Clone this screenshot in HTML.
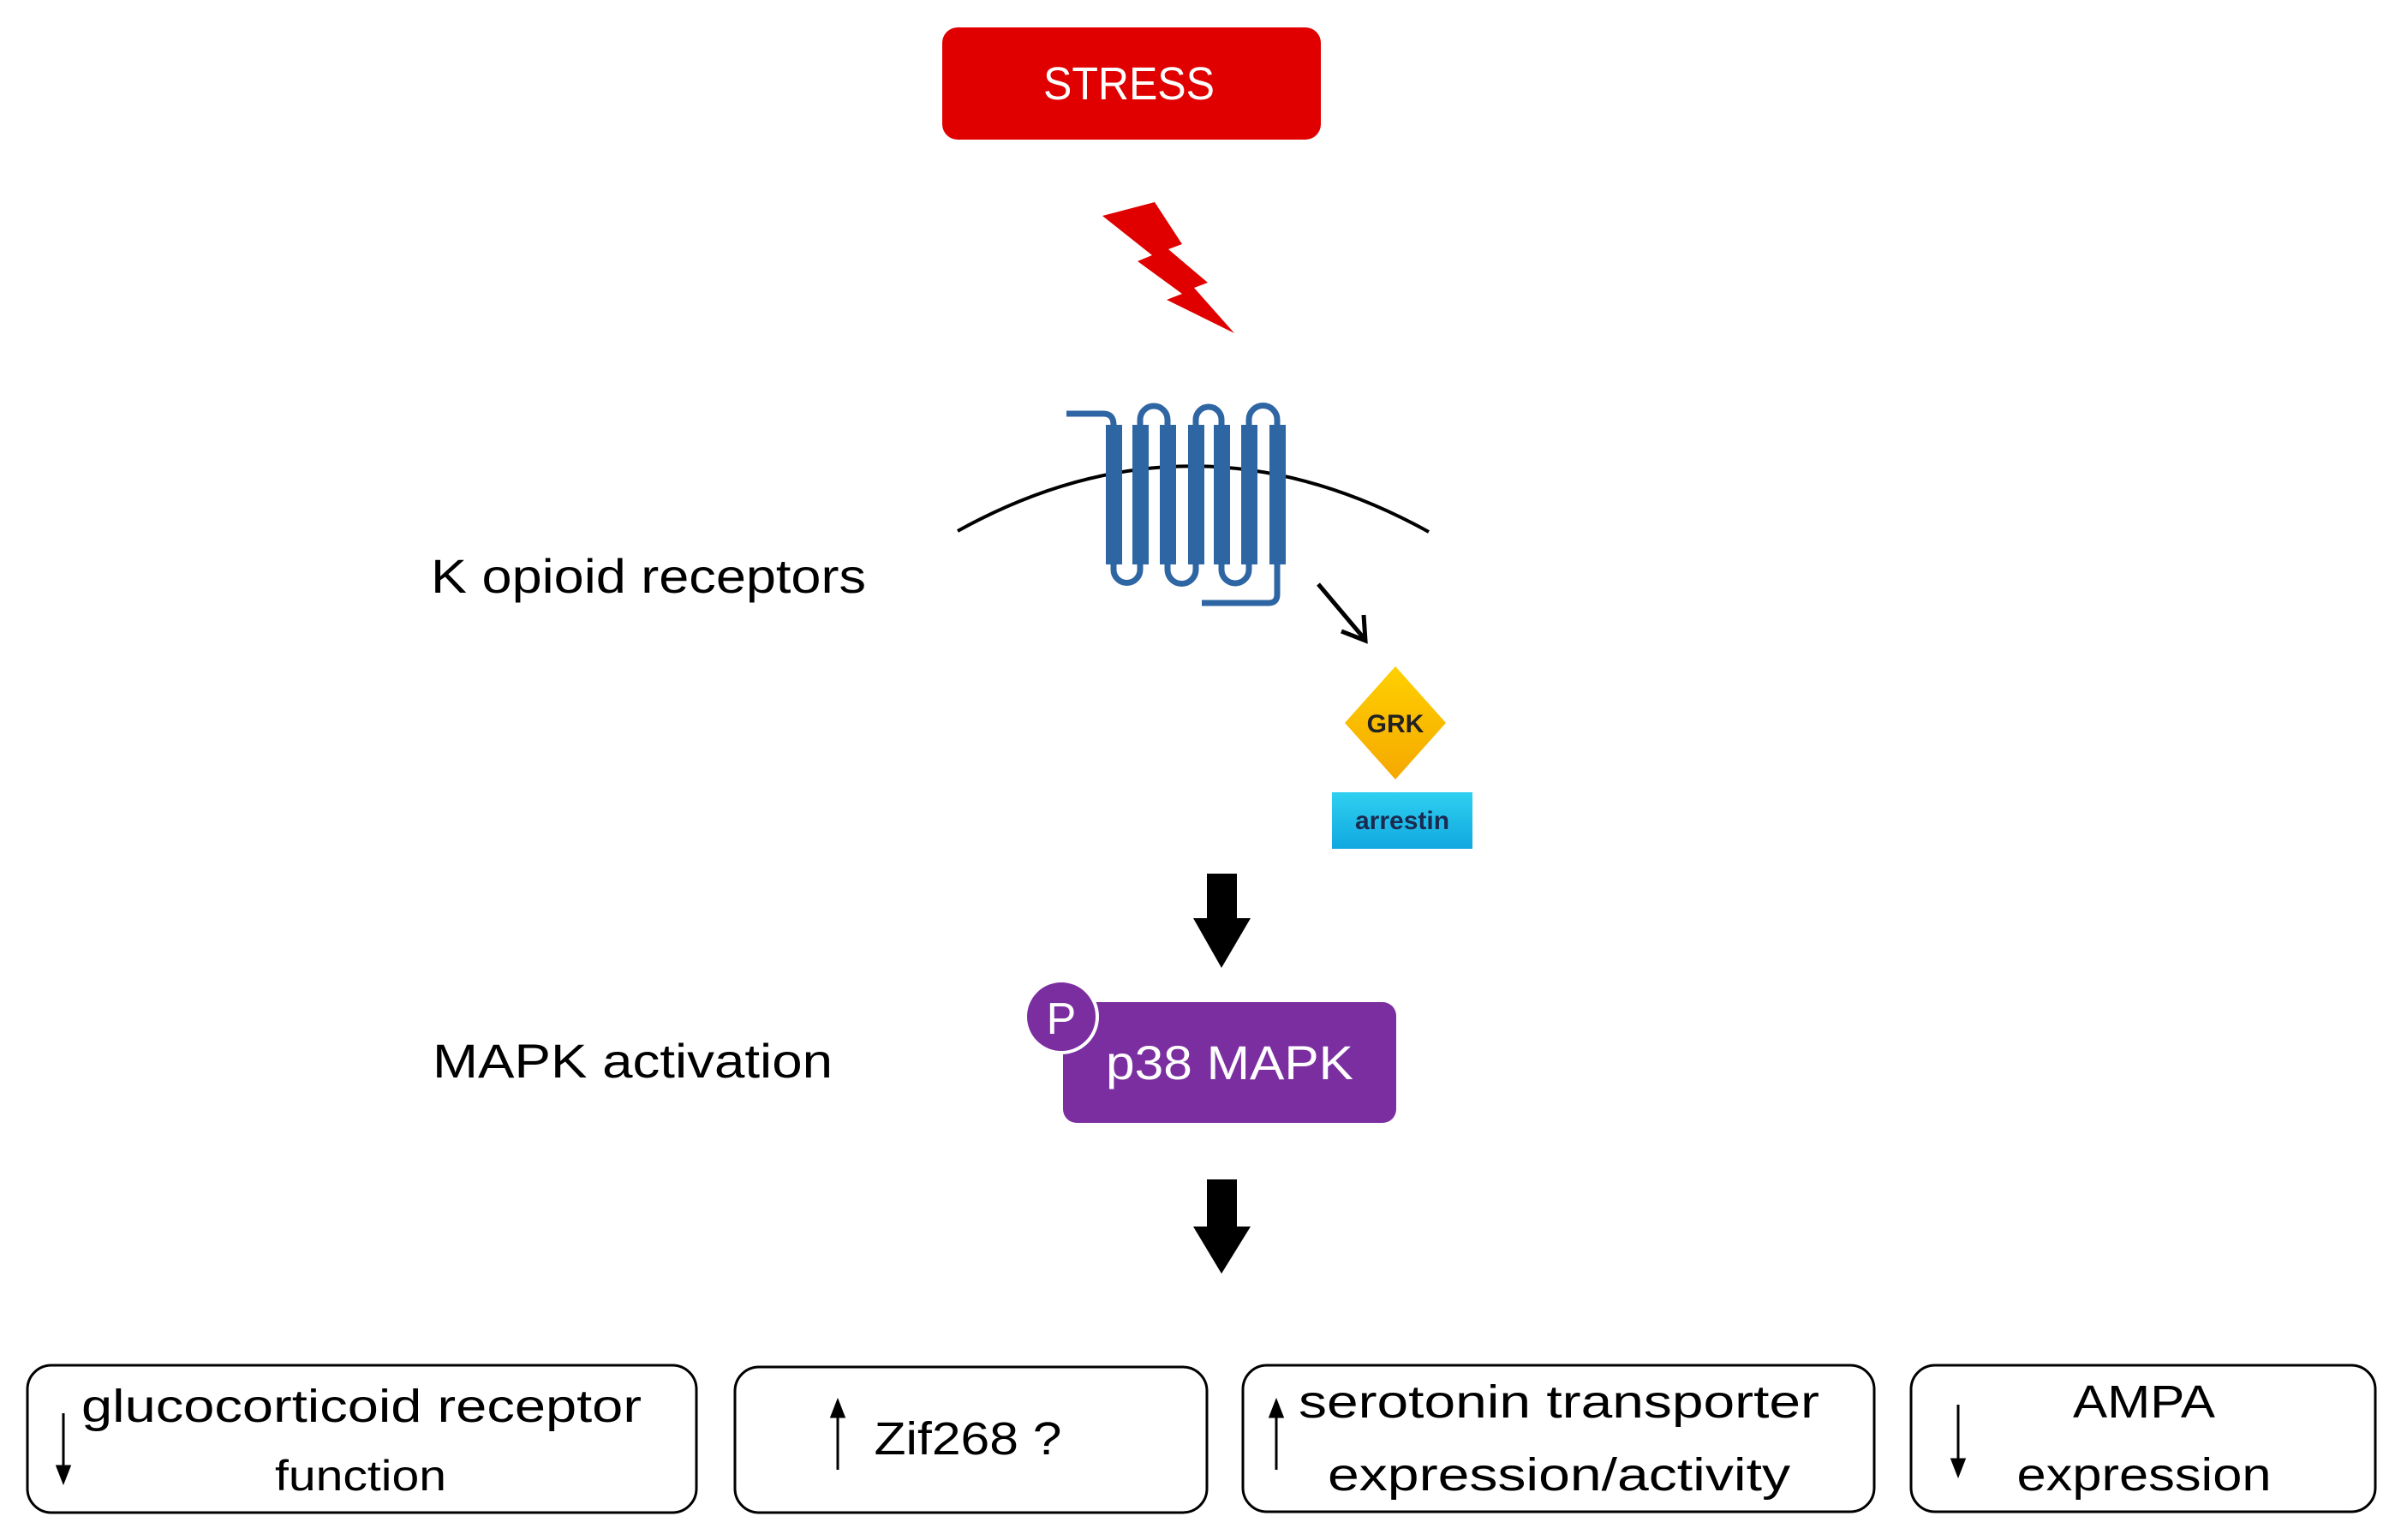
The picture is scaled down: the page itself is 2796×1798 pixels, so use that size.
<!DOCTYPE html>
<html><head><meta charset="utf-8"><style>
html,body{margin:0;padding:0;background:#fff;}
svg{display:block;}
text{font-family:"Liberation Sans",sans-serif;}
</style></head><body>
<svg width="2796" height="1798" viewBox="0 0 2796 1798" xmlns="http://www.w3.org/2000/svg">
<defs>
<linearGradient id="gy" x1="0" y1="0" x2="0" y2="1"><stop offset="0" stop-color="#ffd000"/><stop offset="1" stop-color="#f5a800"/></linearGradient>
<linearGradient id="gb" x1="0" y1="0" x2="0" y2="1"><stop offset="0" stop-color="#2fd0f0"/><stop offset="1" stop-color="#10a8e0"/></linearGradient>
</defs>
<!-- STRESS -->
<rect x="1100" y="32" width="442" height="131" rx="18" fill="#e00000"/>
<text x="1318" y="116" font-size="54" fill="#fff" text-anchor="middle" textLength="200" lengthAdjust="spacingAndGlyphs">STRESS</text>
<!-- lightning -->
<polygon points="1287,252 1348,236 1380,285 1364,291 1410,330 1394,336 1441,389 1362,350 1380,343 1328,305 1345,298" fill="#e00000"/>
<!-- membrane -->
<path d="M1118,620 Q1392,468 1668,621" fill="none" stroke="#000" stroke-width="4"/>
<!-- receptor -->
<g fill="none" stroke="#2e65a3" stroke-width="7">
<path d="M1245,483 H1288 Q1300,483 1300,496 V665 A15.5,15.5 0 0 0 1331,665 V490 A16,16 0 0 1 1363,490 V665 A16.5,16.5 0 0 0 1396,665 V490 A15,15 0 0 1 1426,490 V665 A16,16 0 0 0 1458,665 V490 A16.5,16.5 0 0 1 1491,490 V694 Q1491,704 1481,704 H1403"/>
</g>
<g fill="#2e65a3">
<rect x="1291" y="496" width="19" height="163"/><rect x="1322" y="496" width="19" height="163"/>
<rect x="1354" y="496" width="19" height="163"/><rect x="1387" y="496" width="19" height="163"/>
<rect x="1417" y="496" width="19" height="163"/><rect x="1449" y="496" width="19" height="163"/>
<rect x="1482" y="496" width="19" height="163"/>
</g>
<text x="503" y="692" font-size="56" fill="#000" textLength="508" lengthAdjust="spacingAndGlyphs">K opioid receptors</text>
<!-- small arrow -->
<line x1="1539" y1="682" x2="1593" y2="746" stroke="#000" stroke-width="5"/>
<polyline points="1566,737 1594,748 1592,718" fill="none" stroke="#000" stroke-width="5"/>
<!-- GRK -->
<polygon points="1629,778 1688,844 1629,910 1570,844" fill="url(#gy)"/>
<text x="1629" y="855" font-size="30" font-weight="bold" fill="#222" text-anchor="middle">GRK</text>
<rect x="1555" y="925" width="164" height="66" fill="url(#gb)"/>
<text x="1637" y="968" font-size="30" font-weight="bold" fill="#1a2a50" text-anchor="middle">arrestin</text>
<!-- arrow 1 -->
<rect x="1409" y="1020" width="35" height="60" fill="#000"/>
<polygon points="1393,1072 1460,1072 1426,1130" fill="#000"/>
<!-- MAPK -->
<text x="505" y="1258" font-size="56" fill="#000" textLength="467" lengthAdjust="spacingAndGlyphs">MAPK activation</text>
<rect x="1241" y="1170" width="389" height="141" rx="16" fill="#7b2ea0"/>
<circle cx="1239" cy="1187" r="42" fill="#7b2ea0" stroke="#fff" stroke-width="4"/>
<text x="1239" y="1207" font-size="52" fill="#fff" text-anchor="middle">P</text>
<text x="1291" y="1260" font-size="56" fill="#fff" textLength="289" lengthAdjust="spacingAndGlyphs">p38 MAPK</text>
<!-- arrow 2 -->
<rect x="1409" y="1377" width="35" height="62" fill="#000"/>
<polygon points="1393,1432 1460,1432 1426,1487" fill="#000"/>
<!-- boxes -->
<g fill="none" stroke="#000" stroke-width="3">
<rect x="32" y="1594" width="781" height="172" rx="28"/>
<rect x="858" y="1596" width="551" height="170" rx="28"/>
<rect x="1451" y="1594" width="737" height="171" rx="28"/>
<rect x="2231" y="1594" width="542" height="171" rx="28"/>
</g>
<g stroke="#000" stroke-width="3">
<line x1="74" y1="1650" x2="74" y2="1722"/><polygon points="67,1712 81,1712 74,1730" fill="#000"/>
<line x1="978" y1="1652" x2="978" y2="1716"/><polygon points="971,1654 985,1654 978,1636" fill="#000"/>
<line x1="1490" y1="1652" x2="1490" y2="1716"/><polygon points="1483,1654 1497,1654 1490,1636" fill="#000"/>
<line x1="2286" y1="1640" x2="2286" y2="1706"/><polygon points="2279,1704 2293,1704 2286,1722" fill="#000"/>
</g>
<g font-size="54" fill="#000" text-anchor="middle">
<text x="422" y="1660" textLength="654" lengthAdjust="spacingAndGlyphs">glucocorticoid receptor</text>
<text x="421" y="1740" font-size="50" textLength="200" lengthAdjust="spacingAndGlyphs">function</text>
<text x="1130" y="1698" textLength="219" lengthAdjust="spacingAndGlyphs">Zif268 ?</text>
<text x="1820" y="1655" textLength="608" lengthAdjust="spacingAndGlyphs">serotonin transporter</text>
<text x="1820" y="1740" textLength="540" lengthAdjust="spacingAndGlyphs">expression/activity</text>
<text x="2503" y="1655" textLength="166" lengthAdjust="spacingAndGlyphs">AMPA</text>
<text x="2503" y="1740" textLength="297" lengthAdjust="spacingAndGlyphs">expression</text>
</g>
</svg>
</body></html>
